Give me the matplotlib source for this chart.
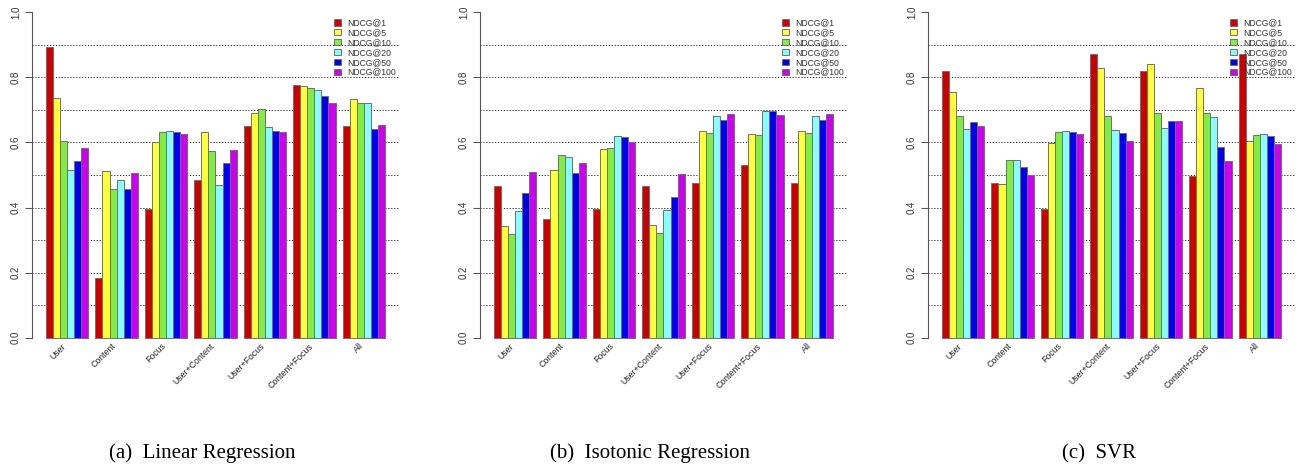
import matplotlib
matplotlib.use("Agg")
import matplotlib.pyplot as plt
from matplotlib.patches import Patch
from matplotlib.transforms import offset_copy
import numpy as np

categories = ["User", "Content", "Focus", "User+Content", "User+Focus", "Content+Focus", "All"]
series_names = ["NDCG@1", "NDCG@5", "NDCG@10", "NDCG@20", "NDCG@50", "NDCG@100"]
colors = ["#CC0000", "#FFFF3A", "#80EE40", "#88FFFF", "#0000EE", "#CC00EE"]
captions = ["(a)  Linear Regression", "(b)  Isotonic Regression", "(c)  SVR"]

# rows: categories, columns: NDCG@1,5,10,20,50,100
linear = [
    [0.892, 0.736, 0.605, 0.515, 0.543, 0.584],
    [0.183, 0.511, 0.456, 0.485, 0.456, 0.505],
    [0.394, 0.600, 0.633, 0.636, 0.632, 0.626],
    [0.484, 0.633, 0.575, 0.470, 0.538, 0.576],
    [0.652, 0.691, 0.704, 0.646, 0.635, 0.631],
    [0.776, 0.772, 0.766, 0.760, 0.743, 0.721],
    [0.652, 0.735, 0.722, 0.721, 0.642, 0.653],
]
isotonic = [
    [0.465, 0.342, 0.319, 0.389, 0.445, 0.509],
    [0.364, 0.515, 0.560, 0.554, 0.506, 0.536],
    [0.394, 0.581, 0.584, 0.620, 0.617, 0.602],
    [0.467, 0.347, 0.323, 0.391, 0.432, 0.502],
    [0.474, 0.635, 0.629, 0.680, 0.669, 0.688],
    [0.530, 0.625, 0.622, 0.696, 0.698, 0.683],
    [0.475, 0.636, 0.630, 0.680, 0.669, 0.688],
]
svr = [
    [0.820, 0.755, 0.682, 0.640, 0.664, 0.652],
    [0.476, 0.473, 0.546, 0.546, 0.526, 0.500],
    [0.394, 0.599, 0.633, 0.636, 0.632, 0.626],
    [0.871, 0.830, 0.682, 0.639, 0.630, 0.603],
    [0.820, 0.841, 0.691, 0.645, 0.665, 0.666],
    [0.496, 0.768, 0.691, 0.679, 0.586, 0.543],
    [0.871, 0.605, 0.623, 0.627, 0.620, 0.595],
]
panels = [linear, isotonic, svr]

W, H = 1296, 466
fig = plt.figure(figsize=(W / 100, H / 100), dpi=100)

sans = ["Liberation Sans", "DejaVu Sans"]
serif = ["Liberation Serif", "DejaVu Serif"]

nser = len(series_names)
ncat = len(categories)
gap = 1
x_lo = 1
x_hi = ncat * (nser + gap)
pad_x = (x_hi - x_lo) * 0.04

for k, data in enumerate(panels):
    vals = np.array(data)
    off = k * 448
    left_px, right_px = 32.4 + off, 398.5 + off
    bottom_px, top_px = 350.7, 0.0
    ax = fig.add_axes([left_px / W, (H - bottom_px) / H,
                       (right_px - left_px) / W, (bottom_px - top_px) / H])
    ax.set_xlim(x_lo - pad_x, x_hi + pad_x)
    ax.set_ylim(-0.04, 1.0378)

    for g in range(ncat):
        base = gap + g * (nser + gap)
        for j in range(nser):
            ax.bar(base + j, vals[g, j], width=1, align="edge",
                   color=colors[j], edgecolor="#707070", linewidth=0.7, zorder=3)

    for yv in np.arange(0.1, 0.95, 0.1):
        ax.axhline(yv, color="#222222", linestyle=(0, (1.2, 1.8)), linewidth=0.7, zorder=1)

    for s in ["top", "right", "bottom"]:
        ax.spines[s].set_visible(False)
    ax.spines["left"].set_bounds(0, 1.0)
    ax.spines["left"].set_color("#555555")
    ax.spines["left"].set_linewidth(0.8)

    ax.set_yticks(np.arange(0, 1.01, 0.2))
    ax.set_yticklabels([f"{v:.1f}" for v in np.arange(0, 1.01, 0.2)],
                       rotation=90, va="center", fontsize=7, family=sans, color="#333333")
    ax.tick_params(axis="y", length=4.8, width=0.8, color="#555555", pad=3.5)
    ax.set_xticks([])

    tr = offset_copy(ax.transData, fig=fig, x=-2, y=-7, units="dots")
    for g, name in enumerate(categories):
        cx = gap + g * (nser + gap) + nser / 2
        ax.text(cx, 0, name, transform=tr, rotation=45, ha="right", va="center",
                rotation_mode="anchor", fontsize=6.3, family=sans, color="#222222")

    handles = [Patch(facecolor=c, edgecolor="#707070", linewidth=0.7) for c in colors]
    leg = ax.legend(handles, series_names, loc="upper right",
                    bbox_to_anchor=(1.0, 0.955), frameon=False,
                    handlelength=0.75, handleheight=0.75, handletextpad=0.75,
                    labelspacing=0.1, borderpad=0, borderaxespad=0.3,
                    prop={"family": sans, "size": 6.2})
    for t in leg.get_texts():
        t.set_color("#333333")

    fig.text((202.5 + off) / W, (H - 458) / H, captions[k], ha="center", va="baseline",
             fontsize=15, family=serif)

fig.savefig("out.png", dpi=100)
